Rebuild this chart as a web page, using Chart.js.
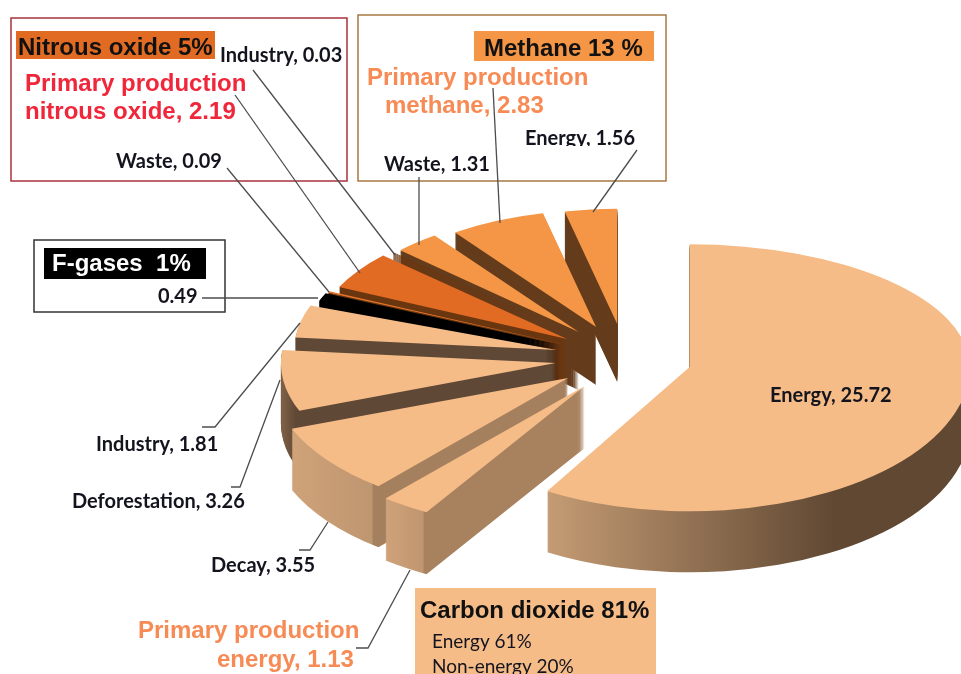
<!DOCTYPE html>
<html>
<head>
<meta charset="utf-8">
<script src="https://cdn.jsdelivr.net/npm/chart.js@4"></script>
<style>html,body{margin:0;padding:0;background:#fff;overflow:hidden}#wrap{position:relative;width:961px;height:674px}#c{filter:blur(0.4px)}</style>
</head>
<body>
<div id="wrap"><canvas id="c" width="961" height="674"></canvas></div>
<script>
// ---- data ----
const categories = ['Energy','Primary production energy','Decay','Deforestation','Industry','F-gases','Waste','Primary production nitrous oxide','Industry','Waste','Primary production methane','Energy'];
const values = [25.72,1.13,3.55,3.26,1.81,0.49,0.09,2.19,0.03,1.31,2.83,1.56];
const groupTitles = ['Nitrous oxide 5%','F-gases  1%','Methane 13 %','Carbon dioxide 81%'];
const co2Shares = ['Energy 61%','Non-energy 20%'];

// ---- styles ----
const topColors = ['#F6BC88','#F6BC88','#F6BC88','#F6BC88','#F6BC88','#000000','#E9772B','#E26B24','#6A3610','#F49645','#F49645','#F49645'];
const explode = [67,70,70,70,70,70,70,70,70,70,70,70];
const wallStops = [
  [[545,'#C59C74'],[835,'#604833']],
  [[386,'#CFA279'],[423,'#C09670'],[424,'#A8825F']],
  [[295,'#CFA279'],[372,'#BE9670'],[373,'#A5805F']],
  [[283,'#7D5F45'],[296,'#5F4836']],
  [[280,'#5F4836'],[300,'#5F4836']],
  [[300,'#000000'],[320,'#000000']],
  [[300,'#6A3610'],[320,'#6A3610']],
  [[300,'#6A3610'],[320,'#6A3610']],
  [[300,'#6A3610'],[320,'#6A3610']],
  [[300,'#643C1C'],[320,'#643C1C']],
  [[300,'#643C1C'],[320,'#643C1C']],
  [[300,'#643C1C'],[320,'#643C1C']]
];
const SQUASH = 0.485, PERSPECTIVE = 0.12, NEAR_BOOST = 0.08, DEPTH = 60, RADIUS = 270;

function drawLayer(ctx, arc, ax, ay, sx, up, down, fill){
  const o = arc.options, copy = {};
  for (const k of ['borderAlign','borderColor','borderDash','borderDashOffset','borderJoinStyle','borderRadius','borderWidth','circular','hoverBorderWidth','selfJoin']) copy[k]=o[k];
  copy.offset = 0; copy.spacing = 0; copy.borderWidth = 0; copy.backgroundColor = fill; copy.circular = true;
  arc.options = copy;
  const part = (sy, clipY0, clipY1) => {
    ctx.save();
    if (clipY0 !== null) { ctx.beginPath(); ctx.rect(-10, clipY0, 1000, clipY1-clipY0); ctx.clip(); }
    ctx.translate(ax, ay); ctx.scale(sx, sy); ctx.translate(-arc.x, -arc.y);
    arc.draw(ctx);
    ctx.restore();
  };
  if (up === down) part(up, null, null);
  else { part(up, -10, ay); part(down, ay, 800); }
  arc.options = o;
}

const pie3d = {
  id:'pie3d',
  beforeDatasetsDraw(chart){
    const ctx = chart.ctx, arcs = chart.getDatasetMeta(0).data;
    const order = arcs.map((_,i)=>i).filter(i=>i>0).reverse().concat([0]);
    for (const i of order) {
      const arc = arcs[i];
      const mid = (arc.startAngle+arc.endAngle)/2;        // canvas angle
      const near = Math.sin(mid);
      const s = 1 + PERSPECTIVE*near + NEAR_BOOST*Math.max(0,near)*Math.max(0,near); // nearer slices look bigger
      const ax = arc.x + explode[i]*Math.cos(mid);
      const ay = Math.round(arc.y + explode[i]*SQUASH*near);
      const large = arc.circumference > Math.PI;
      const sy = SQUASH*(near<0 ? s : Math.pow(s,0.8));
      const up = sy*(large?0.91:1), down = sy*(large?1.07:1);
      const depth = Math.round(DEPTH*(1+0.04*near));
      const stops = wallStops[i], x0 = stops[0][0], x1 = stops[stops.length-1][0];
      const grad = ctx.createLinearGradient((x0-ax)/s+arc.x,0,(x1-ax)/s+arc.x,0);
      stops.forEach(([x,c])=>grad.addColorStop((x-x0)/(x1-x0),c));
      for (let d=depth; d>=1; d--) drawLayer(ctx, arc, ax, ay+d, s, up, down, grad);
      drawLayer(ctx, arc, ax, ay, s, up, down, topColors[i]);
    }
    return false;
  },
  afterDraw(chart){
    const ctx = chart.ctx;
    // boxes
    for (const [x,y,w,h,fill,stroke] of boxes) {
      if (fill) { ctx.fillStyle=fill; ctx.fillRect(x,y,w,h); }
      if (stroke) { ctx.strokeStyle=stroke; ctx.lineWidth=1.5; ctx.strokeRect(x,y,w,h); }
    }
    // leaders
    ctx.strokeStyle='#4d4d4d'; ctx.lineWidth=1.3;
    for (const pts of leaders) {
      ctx.beginPath(); pts.forEach(([x,y],j)=> j?ctx.lineTo(x,y):ctx.moveTo(x,y)); ctx.stroke();
    }
    // texts
    ctx.textBaseline='alphabetic'; ctx.textAlign='left';
    for (const [str,x,y,font,color,clipY] of texts) {
      ctx.save();
      if (clipY) { ctx.beginPath(); ctx.rect(0,0,961,clipY); ctx.clip(); }
      ctx.font=font; ctx.fillStyle=color; ctx.fillText(str,x,y);
      ctx.restore();
    }
  }
};

// ---- annotation layout ----
const boxes = [
  [11,18,336,163,null,'#A8323C'],
  [16,31,199,28,'#E26B24',null],
  [34,240,191,72,null,'#333333'],
  [44,248,162,31,'#000000',null],
  [358,15,308,166,null,'#A87844'],
  [474,31,180,30,'#F49645',null],
  [415,588,241,90,'#F6BC88',null]
];
const leaders = [
  [[253,70],[395,255]],
  [[235,95],[360,273]],
  [[227,168],[329,292]],
  [[202,298],[318,298]],
  [[419,177],[419,245]],
  [[493,88],[500,223]],
  [[637,150],[593,212]],
  [[300,323],[215,427],[202,427]],
  [[280,380],[240,487],[231,487]],
  [[328,522],[310,550],[299,550]],
  [[410,570],[368,648],[356,648]]
];
const LBL='bold 20px Lato', HEAD='bold 24px "Liberation Sans"', INK='#14141f', ORANGE='#F78B55', RED='#F0263A';
const lab = i => categories[i]+', '+values[i];
const texts = [
  [groupTitles[0],18,55,HEAD,'#111'],
  [lab(8),220,62,LBL,INK],
  ['Primary production',25,91,HEAD,RED],
  ['nitrous oxide, '+values[7],25,119,HEAD,RED],
  [lab(6),116,168,LBL,INK],
  [groupTitles[1],52,271,HEAD,'#fff'],
  [String(values[5]),158,303,LBL,INK],
  [groupTitles[2],484,56,HEAD,'#111'],
  ['Primary production',367,85,HEAD,ORANGE],
  ['methane, '+values[10],385,113,HEAD,ORANGE],
  [lab(11),525,145,LBL,INK,146],
  [lab(9),384,171,LBL,INK],
  [lab(0),770,402,LBL,INK],
  [lab(4),96,451,LBL,INK],
  [lab(3),72,508,LBL,INK],
  [lab(2),211,572,LBL,INK],
  ['Primary production',138,638,HEAD,ORANGE],
  ['energy, '+values[1],217,667,HEAD,ORANGE],
  [groupTitles[3],420,618,HEAD,'#111'],
  [co2Shares[0],432,648,'19px Lato',INK],
  [co2Shares[1],432,673,'19px Lato',INK]
];

new Chart(document.getElementById('c'),{
  type:'pie',
  data:{labels:categories,datasets:[{data:values,backgroundColor:topColors,borderWidth:0,offset:0}]},
  options:{
    responsive:false,animation:false,radius:RADIUS,rotation:0,
    layout:{padding:{left:289,top:42}},
    plugins:{legend:{display:false},tooltip:{enabled:false}}
  },
  plugins:[pie3d]
});
</script>
</body>
</html>
